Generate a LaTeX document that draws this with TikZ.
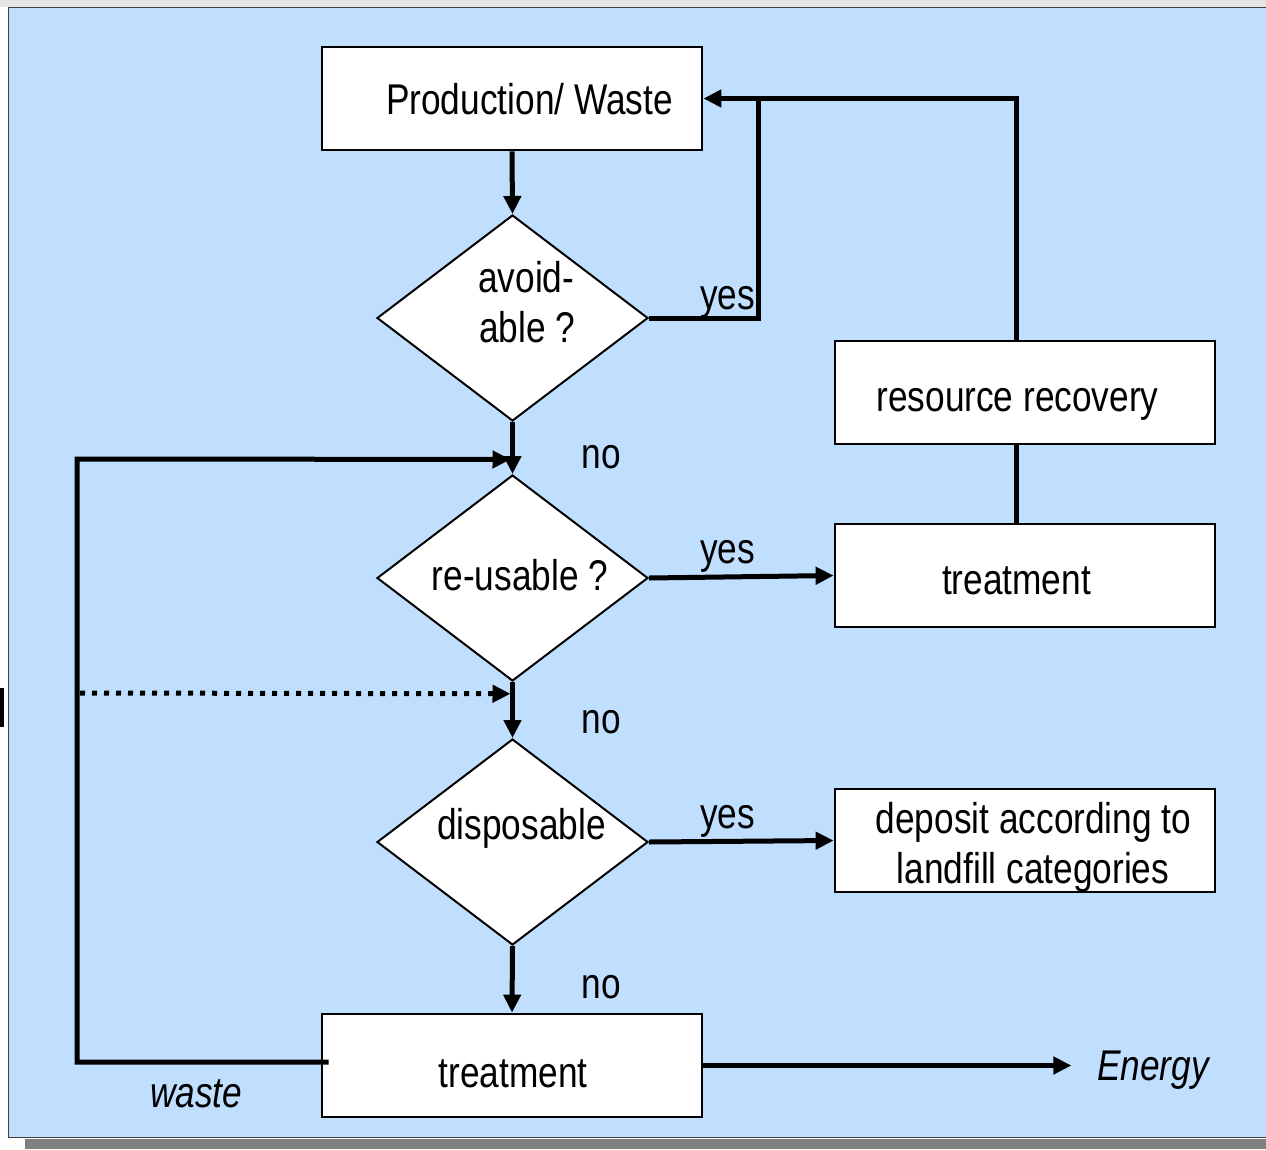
\documentclass[tikz,border=0pt]{standalone}
\usepackage{fontspec}
\setmainfont[FakeStretch=0.82]{Liberation Sans}
\usetikzlibrary{arrows.meta,shapes.geometric,calc}
\definecolor{bgblue}{RGB}{192,223,254}
\definecolor{topstrip}{RGB}{228,228,228}
\definecolor{shadowgray}{RGB}{128,128,128}
\tikzset{
  box/.style={draw, line width=2.8pt, fill=white, rectangle, inner sep=0pt,
              minimum width=380pt, minimum height=103pt},
  decision/.style={draw, line width=2pt, fill=white, diamond, inner sep=0pt,
              minimum width=271pt, minimum height=206pt},
  txt/.style={inner sep=0pt, anchor=base, font=\fontsize{43}{51}\selectfont},
  txtl/.style={txt, anchor=base west},
  flow/.style={line width=5pt, line join=miter},
  conn/.style={flow, -{Triangle[length=18pt,width=17pt]}},
  dotconn/.style={conn, dash pattern=on 5pt off 7pt}
}
\begin{document}
\begin{tikzpicture}[x=1pt,y=-1pt]
\useasboundingbox (0,0) rectangle (1266,1149);
\clip (0,0) rectangle (1266,1149);
% page background, frame and drop shadow
\fill[white] (0,0) rectangle (1266,1149);
\fill[topstrip] (0,0) rectangle (1266,7);
\fill[shadowgray] (25,1139) rectangle (1266,1149);
\filldraw[fill=bgblue, draw=black!75, line width=1.6pt] (8.5,7.5) rectangle (1280,1137.5);
\fill[black] (0,688) rectangle (4,727);

% boxes
\node[box] (prod)   at (512,98.5)   {};
\node[box] (rr)     at (1025,392.5) {};
\node[box] (treat1) at (1025,575.5) {};
\node[box] (dep)    at (1025,840.5) {};
\node[box] (treat2) at (512,1065.5) {};

% decisions
\node[decision] (d1) at (512.5,318) {};
\node[decision] (d2) at (512.5,578) {};
\node[decision] (d3) at (512.5,842) {};

% texts in boxes and diamonds
\node[txt]  (tprod) at (529.5,114) {Production/ Waste};
\node[txtl] (td1a)  at (478,292)   {avoid-};
\node[txtl] (td1b)  at (479,342)   {able ?};
\node[txt]  (td2)   at (520,590)   {re-usable ?};
\node[txt]  (td3)   at (521.5,839) {disposable};
\node[txt]  (trr)   at (1017.5,411) {resource recovery};
\node[txt]  (tt1)   at (1016.5,594) {treatment};
\node[txt]  (tdepa) at (1033.5,833) {deposit according to};
\node[txt]  (tdepb) at (1033,883)   {landfill categories};
\node[txt]  (tt2)   at (513,1087)  {treatment};

% branch labels
\node[txt] (yes1) at (727.5,309) {yes};
\node[txt] (yes2) at (727.5,563) {yes};
\node[txt] (yes3) at (727.5,828) {yes};
\node[txt] (no1)  at (601,468)   {no};
\node[txt] (no2)  at (601,733)   {no};
\node[txt] (no3)  at (601,998)   {no};
\node[txtl, font=\fontsize{43}{51}\selectfont\itshape] (energy) at (1097,1080) {Energy};
\node[txtl, font=\fontsize{43}{51}\selectfont\itshape] (waste)  at (150,1107)  {waste};

% helper points
\coordinate (m1) at ($(d1.south)!0.72!(d2.north)+(-2,0)$);
\coordinate (m2) at ($(d2.south)!0.21!(d3.north)+(-2,0)$);
\coordinate (wstart) at ($(treat2.west)+(8,-3.5)$);
\coordinate (etip) at ($(treat2.east)+(368,0)$);

% main flow
\draw[conn] (prod.south) -- (d1.north);
\draw[conn] (d1.south) -- (d2.north);
\draw[conn] (d2.south) -- (d3.north);
\draw[conn] (d3.south) -- (treat2.north);

% yes branches
\draw[flow] (d1.east) -| ($(prod.east)+(55,0)$);
\draw[conn] ([xshift=-9pt]rr.north) |- (prod.east);
\draw[flow] ([xshift=-9pt]rr.south) -- ([xshift=-9pt]treat1.north);
\draw[conn] (d2.east) -- (treat1.west);
\draw[conn] (d3.east) -- (dep.west);

% outputs and recirculation
\draw[conn] (treat2.east) -- (etip);
\draw[conn] (wstart) -- (77,1062) -- (77,459) -- (m1);
\draw[dotconn] (80,693) -- (m2);
\end{tikzpicture}
\end{document}
